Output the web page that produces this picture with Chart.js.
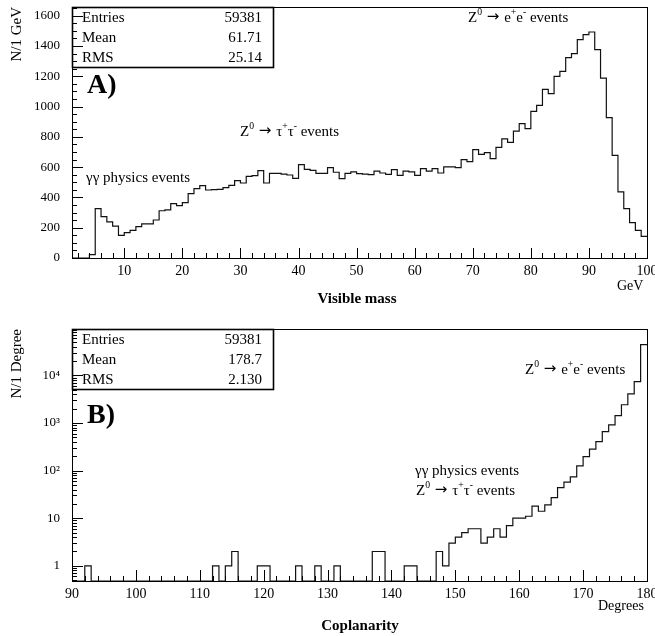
<!DOCTYPE html>
<html>
<head>
<meta charset="utf-8">
<script src="https://cdn.jsdelivr.net/npm/chart.js@4.4.0/dist/chart.umd.min.js"></script>
<style>
  body { margin: 0; background: #fff; }
  canvas { position: absolute; left: 0; }
  #massChart { top: 0; }
  #copChart { top: 318px; }
</style>
</head>
<body>
<canvas id="massChart" width="655" height="318"></canvas>
<canvas id="copChart" width="655" height="318"></canvas>
<script>
// A) visible mass, 1 GeV bins starting at 1 GeV
const massStart = 1;
const massCounts = [
  0, 0, 0, 22, 326, 273, 238, 211, 150, 167,
  183, 207, 225, 225, 251, 312, 318, 359, 346, 366,
  425, 458, 478, 449, 452, 453, 465, 480, 511, 495,
  539, 544, 577, 495, 559, 559, 554, 548, 526, 616,
  585, 579, 559, 559, 596, 566, 524, 559, 568, 557,
  554, 550, 574, 561, 552, 583, 546, 574, 568, 546,
  590, 574, 590, 561, 601, 601, 596, 649, 636, 715,
  684, 695, 656, 730, 787, 763, 838, 887, 854, 968,
  1008, 1113, 1085, 1199, 1232, 1323, 1349, 1441, 1474, 1492,
  1375, 1188, 927, 678, 436, 326, 234, 183, 143
];
const massXTicks = [10, 20, 30, 40, 50, 60, 70, 80, 90, 100];
const massYTicks = [0, 200, 400, 600, 800, 1000, 1200, 1400, 1600];
const massStats = [['Entries', '59381'], ['Mean', '61.71'], ['RMS', '25.14']];

// B) coplanarity, 1 degree bins starting at 90 degrees
const copStart = 90;
const copCounts = [
  0, 0, 1, 0, 0, 0, 0, 0, 0, 0,
  0, 0, 0, 0, 0, 0, 0, 0, 0, 0,
  0, 0, 1, 0, 1, 2, 0, 0, 0, 1,
  1, 0, 0, 0, 0, 1, 0, 0, 1, 0,
  0, 1, 0, 0, 0, 0, 0, 2, 2, 0,
  0, 0, 1, 1, 0, 0, 0, 2, 1, 3,
  4, 5, 6, 6, 3, 4, 6, 4, 7, 10,
  10, 11, 18, 14, 19, 27, 44, 57, 74, 125,
  197, 283, 407, 660, 915, 1420, 2410, 4080, 7390, 44000
];
const copXTicks = [90, 100, 110, 120, 130, 140, 150, 160, 170, 180];
const copYTicks = [1, 10, 100, 1000, 10000];
const copYLabels = ['1', '10', '10²', '10³', '10⁴'];
const copStats = [['Entries', '59381'], ['Mean', '178.7'], ['RMS', '2.130']];

const serif = '"Liberation Serif", "DejaVu Serif", serif';
const copYMin = 0.48, copYMax = 94000;

function histPoints(start, counts, floor) {
  const pts = counts.map((c, i) => ({ x: start + i, y: c > 0 ? c : floor }));
  pts.push({ x: start + counts.length, y: pts[pts.length - 1].y });
  return pts;
}

// text with superscripts: parts = [[text, kind]], kind 1 = superscript, 'arrow' = arrow glyph
function drawRich(ctx, parts, x, y, size, bold, align) {
  const f = (p) => {
    if (p[1] === 'arrow') return size + 'px "DejaVu Sans", sans-serif';
    return (bold ? 'bold ' : '') + (p[1] === 1 ? size * 0.65 : size) + 'px ' + serif;
  };
  let w = 0;
  parts.forEach(p => { ctx.font = f(p); w += ctx.measureText(p[0]).width; });
  let cx = align === 'center' ? x - w / 2 : x;
  ctx.textAlign = 'left';
  ctx.textBaseline = 'middle';
  parts.forEach(p => {
    ctx.font = f(p);
    ctx.fillText(p[0], cx, p[1] === 1 ? y - size * 0.38 : (p[1] === 'arrow' ? y - 1 : y));
    cx += ctx.measureText(p[0]).width;
  });
}

// frame, inward ticks, stats box, labels
const decor = {
  id: 'decor',
  afterDraw(chart, args, o) {
    const { ctx, chartArea: a } = chart;
    const xs = chart.scales.x, ys = chart.scales.y;
    ctx.save();
    ctx.strokeStyle = '#000';
    ctx.fillStyle = '#000';
    ctx.lineWidth = 1;
    ctx.beginPath();
    o.xTicks.forEach(([v, len]) => {
      const px = Math.round(xs.getPixelForValue(v)) + 0.5;
      ctx.moveTo(px, a.bottom); ctx.lineTo(px, a.bottom - len);
    });
    o.yTicks.forEach(([v, len]) => {
      const py = Math.round(ys.getPixelForValue(v)) + 0.5;
      ctx.moveTo(a.left, py); ctx.lineTo(a.left + len, py);
    });
    ctx.stroke();
    ctx.strokeRect(a.left + 0.5, a.top + 0.5, a.right - a.left, a.bottom - a.top);

    ctx.lineWidth = 1.6;
    ctx.strokeRect(a.left + 0.5, a.top + 0.5, 201, 60);
    ctx.font = '15px ' + serif;
    ctx.textBaseline = 'middle';
    o.stats.forEach(([k, v], i) => {
      const ty = a.top + 11 + i * 20;
      ctx.textAlign = 'left'; ctx.fillText(k, a.left + 10, ty);
      ctx.textAlign = 'right'; ctx.fillText(v, a.left + 190, ty);
    });
    o.texts.forEach(t => drawRich(ctx, t.parts, t.x, t.y, t.size, t.bold, t.align));
    ctx.restore();
  }
};

function linTicks(from, to, step, majorEvery, majLen) {
  const out = [];
  for (let v = from; v <= to + 1e-9; v += step) out.push([v, Math.abs(v % majorEvery) < 1e-9 ? majLen : 5]);
  return out;
}
function logTicks(min, max) {
  const out = [];
  for (let d = -1; d <= 5; d++) for (let m = 1; m <= 9; m++) {
    const v = m * Math.pow(10, d);
    if (v > min && v < max) out.push([v, m === 1 ? 11 : 5]);
  }
  return out;
}

const arrow = [' → ', 'arrow'];
const zee = [['Z'], ['0', 1], arrow, ['e'], ['+', 1], ['e'], ['-', 1], [' events']];
const ztt = [['Z'], ['0', 1], arrow, ['τ'], ['+', 1], ['τ'], ['-', 1], [' events']];
const gg = [['γγ physics events']];

function axisX(min, max, tickVals, height) {
  return {
    type: 'linear', min: min, max: max,
    grid: { display: false, drawTicks: false, tickLength: 0 }, border: { display: false },
    afterBuildTicks: s => { s.ticks = tickVals.map(v => ({ value: v })); },
    afterFit: s => { s.height = height; s.paddingLeft = 0; s.paddingRight = 0; },
    ticks: { color: '#000', font: { family: serif, size: 14 }, padding: 5, maxRotation: 0, autoSkip: false, callback: v => String(v) }
  };
}

function axisY(extra) {
  return Object.assign({
    grid: { display: false, drawTicks: false, tickLength: 0 }, border: { display: false },
    afterFit: s => { s.width = 72; s.paddingTop = 0; s.paddingBottom = 0; }
  }, extra);
}

new Chart(document.getElementById('massChart'), {
  type: 'line',
  data: { datasets: [{ data: histPoints(massStart, massCounts, 0), stepped: 'before', borderColor: '#111', borderWidth: 1.2, pointRadius: 0, fill: false }] },
  options: {
    animation: false, responsive: false, events: [],
    layout: { padding: { top: 7, right: 8, left: 0, bottom: 0 } },
    plugins: {
      legend: { display: false }, tooltip: { enabled: false },
      decor: {
        xTicks: linTicks(2, 100, 2, 10, 10),
        yTicks: linTicks(0, 1650, 50, 200, 11),
        stats: massStats,
        texts: [
          { parts: [['A)']], x: 87, y: 86, size: 28, bold: true },
          { parts: gg, x: 86, y: 178, size: 15 },
          { parts: ztt, x: 240, y: 132, size: 15 },
          { parts: zee, x: 468, y: 18, size: 15 },
          { parts: [['GeV']], x: 617, y: 286, size: 14 },
          { parts: [['Visible mass']], x: 357, y: 299, size: 15, bold: true, align: 'center' }
        ]
      }
    },
    scales: {
      x: axisX(1, 100, massXTicks, 60),
      y: axisY({
        min: 0, max: 1657,
        afterBuildTicks: s => { s.ticks = massYTicks.map(v => ({ value: v })); },
        ticks: { color: '#000', font: { family: serif, size: 13 }, padding: 12, callback: v => String(v) },
        title: { display: true, text: 'N/1 GeV', align: 'end', color: '#000', font: { family: serif, size: 15 }, padding: { top: 8, bottom: 0 } }
      })
    }
  },
  plugins: [decor]
});

new Chart(document.getElementById('copChart'), {
  type: 'line',
  data: { datasets: [{ data: histPoints(copStart, copCounts, copYMin), stepped: 'before', borderColor: '#111', borderWidth: 1.2, pointRadius: 0, fill: false }] },
  options: {
    animation: false, responsive: false, events: [],
    layout: { padding: { top: 11, right: 8, left: 0, bottom: 0 } },
    plugins: {
      legend: { display: false }, tooltip: { enabled: false },
      decor: {
        xTicks: linTicks(90, 180, 2, 10, 11),
        yTicks: logTicks(copYMin, copYMax),
        stats: copStats,
        texts: [
          { parts: [['B)']], x: 87, y: 98, size: 28, bold: true },
          { parts: zee, x: 525, y: 52, size: 15 },
          { parts: gg, x: 415, y: 153, size: 15 },
          { parts: ztt, x: 416, y: 173, size: 15 },
          { parts: [['Degrees']], x: 598, y: 288, size: 14 },
          { parts: [['Coplanarity']], x: 360, y: 308, size: 15, bold: true, align: 'center' }
        ]
      }
    },
    scales: {
      x: axisX(90, 180, copXTicks, 55),
      y: axisY({
        type: 'logarithmic', min: copYMin, max: copYMax,
        afterBuildTicks: s => { s.ticks = copYTicks.map(v => ({ value: v })); },
        ticks: { color: '#000', font: { family: serif, size: 13 }, padding: 12, callback: (v, i) => copYLabels[i] },
        title: { display: true, text: 'N/1 Degree', align: 'end', color: '#000', font: { family: serif, size: 15 }, padding: { top: 8, bottom: 0 } }
      })
    }
  },
  plugins: [decor]
});
</script>
</body>
</html>
